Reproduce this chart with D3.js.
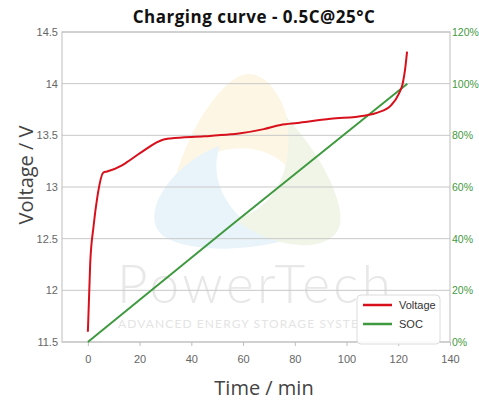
<!DOCTYPE html>
<html>
<head>
<meta charset="utf-8">
<script src="https://cdn.jsdelivr.net/npm/d3@7"></script>
<style>
  body { margin: 0; background: #fff; }
  svg { display: block; }
</style>
</head>
<body>
<div class="chart"></div>
<script>
// Charging curve data (time in min)
const voltageTime = [0, 0.9, 2.2, 3.7, 6, 7.4, 13.2, 15.1, 20.3, 29.3, 31.9, 45, 55.2, 59, 68, 74.5, 81, 93.9, 106.8, 112, 117.2, 120.4, 121.7, 122.6, 123.4];
const voltageValues = [11.6, 12.26, 12.62, 12.91, 13.14, 13.15, 13.21, 13.24, 13.33, 13.46, 13.47, 13.49, 13.51, 13.52, 13.56, 13.6, 13.62, 13.66, 13.69, 13.72, 13.79, 13.91, 14.0, 14.13, 14.31];
const socTime = [0, 55.2, 123.5];
const socValues = [0, 45, 100];

const voltTicks = [11.5, 12, 12.5, 13, 13.5, 14, 14.5];
const socTicks = [0, 20, 40, 60, 80, 100, 120];
const timeTicks = [0, 20, 40, 60, 80, 100, 120, 140];

const W = 479, H = 400;
const margin = { top: 32, right: 29, bottom: 58, left: 62 };
const width = W - margin.left - margin.right;
const height = H - margin.top - margin.bottom;

const svg = d3.select(".chart").append("svg")
    .attr("width", W)
    .attr("height", H);

const x = d3.scaleLinear().domain([-10, 140]).range([margin.left, margin.left + width]);
const yV = d3.scaleLinear().domain([11.5, 14.5]).range([margin.top + height, margin.top]);
const yS = d3.scaleLinear().domain([0, 120]).range([margin.top + height, margin.top]);

// Watermark logo
const logo = svg.append("g")
    .attr("transform", "translate(248,178)")
    .attr("opacity", 0.3);
const lobe = "M -72,-2 C -55,-60 -20,-104 0,-104 C 30,-104 50,-50 42,-8 C 20,-36 -30,-40 -72,-2 Z";
[["#fbe3a8", 0], ["#b5dcf0", -120], ["#cfe1b6", 120]].forEach(([c, a]) => {
    logo.append("path").attr("d", lobe).attr("fill", c).attr("transform", `rotate(${a})`);
});
svg.append("text")
    .attr("x", 117).attr("y", 303)
    .style("font-family", "Lato, 'Open Sans', sans-serif")
    .style("font-weight", 300)
    .style("font-size", "53px")
    .style("letter-spacing", "3.5px")
    .style("fill", "#e8e8e8")
    .text("PowerTech");
svg.append("text")
    .attr("x", 118).attr("y", 328)
    .style("font-family", "Lato, 'Open Sans', sans-serif")
    .style("font-size", "12px")
    .style("letter-spacing", "1.1px")
    .style("fill", "#e4e4e4")
    .text("ADVANCED ENERGY STORAGE SYSTEMS");

// Gridlines
svg.append("g")
    .selectAll("line")
    .data(voltTicks)
    .enter().append("line")
    .attr("x1", margin.left).attr("x2", margin.left + width)
    .attr("y1", d => yV(d)).attr("y2", d => yV(d))
    .attr("stroke", "#c8c8c8").attr("stroke-width", 1);

// Frame
svg.append("rect")
    .attr("x", margin.left).attr("y", margin.top)
    .attr("width", width).attr("height", height)
    .attr("fill", "none").attr("stroke", "#bdbdbd");

// X axis
const xAxis = svg.append("g")
    .attr("transform", `translate(0, ${margin.top + height})`)
    .call(d3.axisBottom(x).tickValues(timeTicks).tickSize(4).tickPadding(9));
xAxis.select(".domain").remove();
xAxis.selectAll("line").attr("stroke", "#bdbdbd");
xAxis.selectAll("text")
    .style("font-family", "'Liberation Sans', Arial, sans-serif")
    .style("font-size", "11px").style("fill", "#666");

// Left axis
const yAxisL = svg.append("g")
    .attr("transform", `translate(${margin.left}, 0)`)
    .call(d3.axisLeft(yV).tickValues(voltTicks).tickSize(0).tickPadding(4).tickFormat(d3.format("")));
yAxisL.select(".domain").remove();
yAxisL.selectAll("text")
    .style("font-family", "'Liberation Sans', Arial, sans-serif")
    .style("font-size", "11px").style("fill", "#666");

// Right axis
const yAxisR = svg.append("g")
    .attr("transform", `translate(${margin.left + width}, 0)`)
    .call(d3.axisRight(yS).tickValues(socTicks).tickSize(0).tickPadding(2).tickFormat(d => d + "%"));
yAxisR.select(".domain").remove();
yAxisR.selectAll("text")
    .style("font-family", "'Liberation Sans', Arial, sans-serif")
    .style("font-size", "10.5px").style("fill", "#3f9a3f");

// Curves
const voltData = voltageTime.map((t, i) => ({ t: t, v: voltageValues[i] }));
const socData = socTime.map((t, i) => ({ t: t, v: socValues[i] }));

svg.append("path")
    .datum(socData)
    .attr("fill", "none").attr("stroke", "#3f9a3f").attr("stroke-width", 2)
    .attr("d", d3.line().x(d => x(d.t)).y(d => yS(d.v)));

svg.append("path")
    .datum(voltData)
    .attr("fill", "none").attr("stroke", "#d8101c").attr("stroke-width", 2)
    .attr("d", d3.line().curve(d3.curveMonotoneX).x(d => x(d.t)).y(d => yV(d.v)));

// Titles
svg.append("text")
    .attr("x", 254).attr("y", 23)
    .style("text-anchor", "middle")
    .style("font-family", "'Open Sans', sans-serif")
    .style("font-weight", "bold")
    .style("font-size", "17px")
    .style("letter-spacing", "0.5px")
    .style("fill", "#111")
    .text("Charging curve - 0.5C@25°C");

svg.append("text")
    .attr("transform", "rotate(-90)")
    .attr("x", -175).attr("y", 33)
    .style("text-anchor", "middle")
    .style("font-family", "'Open Sans', sans-serif")
    .style("font-size", "20px")
    .style("fill", "#444")
    .text("Voltage / V");

svg.append("text")
    .attr("x", 264).attr("y", 395)
    .style("text-anchor", "middle")
    .style("font-family", "'Open Sans', sans-serif")
    .style("font-size", "20px")
    .style("fill", "#444")
    .text("Time / min");

// Legend
const legend = svg.append("g").attr("transform", "translate(357, 295)");
legend.append("rect")
    .attr("width", 83).attr("height", 49).attr("rx", 4)
    .attr("fill", "#fff").attr("fill-opacity", 0.9)
    .attr("stroke", "#dcdcdc");
[["Voltage", "#d8101c"], ["SOC", "#3f9a3f"]].forEach(([label, c], i) => {
    const g = legend.append("g").attr("transform", `translate(0, ${10 + i * 19})`);
    g.append("line").attr("x1", 6).attr("x2", 35).attr("stroke", c).attr("stroke-width", 2.5);
    g.append("text").attr("x", 42).attr("dy", "0.35em")
        .style("font-family", "'Liberation Sans', Arial, sans-serif")
        .style("font-size", "11px").style("fill", "#333")
        .text(label);
});
</script>
</body>
</html>
